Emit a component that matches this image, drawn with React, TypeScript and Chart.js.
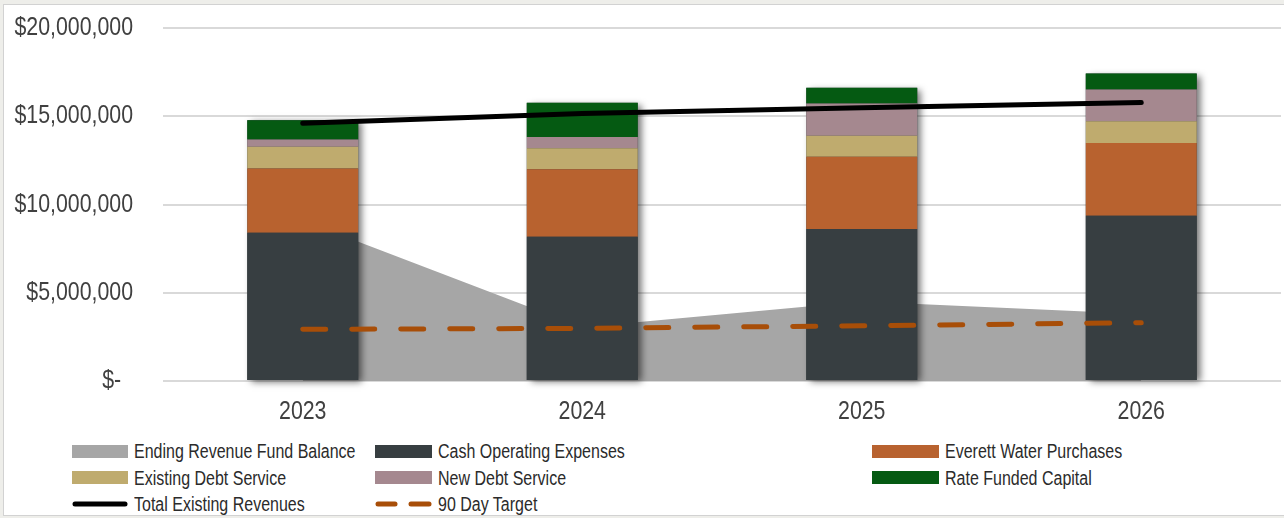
import React, { useEffect, useRef } from "react";
import { Chart, registerables } from "chart.js";

Chart.register(...registerables);

const categories = ["2023", "2024", "2025", "2026"];
const endingBalance = [9100000, 3050000, 4500000, 3800000];
const cashOpex = [8400000, 8170000, 8610000, 9360000];
const everettPurchases = [3640000, 3830000, 4090000, 4130000];
const existingDebt = [1230000, 1180000, 1190000, 1230000];
const newDebt = [410000, 640000, 1830000, 1800000];
const rateFunded = [1100000, 1940000, 890000, 900000];
const totalRevenues = [14600000, 15150000, 15480000, 15780000];
const target90 = [2930000, 2980000, 3130000, 3300000];
const yTicks = [0, 5000000, 10000000, 15000000, 20000000];

const FONT = "'Liberation Sans', Arial, sans-serif";
const NARROW = 0.82;

const C = {
  balance: "#a6a6a6",
  cash: "#373e41",
  everett: "#b8622f",
  existing: "#bfab6e",
  newDebt: "#a5888f",
  rate: "#055a12",
  total: "#000000",
  target: "#a84e08",
};

type LegendItem = { label: string; color: string; kind: "box" | "line" | "dash" };
const legendItems: LegendItem[] = [
  { label: "Ending Revenue Fund Balance", color: C.balance, kind: "box" },
  { label: "Cash Operating Expenses", color: C.cash, kind: "box" },
  { label: "Everett Water Purchases", color: C.everett, kind: "box" },
  { label: "Existing Debt Service", color: C.existing, kind: "box" },
  { label: "New Debt Service", color: C.newDebt, kind: "box" },
  { label: "Rate Funded Capital", color: C.rate, kind: "box" },
  { label: "Total Existing Revenues", color: C.total, kind: "line" },
  { label: "90 Day Target", color: C.target, kind: "dash" },
];
const colLeft = [72, 375, 872];
const colBoxW = [56, 57, 67];
const rowCenter = [451, 477.5, 504];

// Condense axis text horizontally (Arial Narrow look) while scales draw.
const narrowTextPlugin = {
  id: "narrowText",
  beforeDraw(chart: any) {
    const ctx = chart.ctx;
    const orig = CanvasRenderingContext2D.prototype.fillText;
    ctx.fillText = function (text: string, x: number, y: number, maxWidth?: number) {
      this.save();
      this.translate(x, y);
      this.scale(NARROW, 1);
      if (maxWidth === undefined) orig.call(this, text, 0, 0);
      else orig.call(this, text, 0, 0, maxWidth / NARROW);
      this.restore();
    };
  },
  beforeDatasetsDraw(chart: any) {
    delete chart.ctx.fillText;
  },
  afterDraw(chart: any) {
    delete chart.ctx.fillText;
  },
};

const barShadowPlugin = {
  id: "barShadow",
  afterDatasetDraw(chart: any, args: any) {
    if (args.index !== 0) return;
    const ctx = chart.ctx;
    const barIdx = [1, 2, 3, 4, 5];
    const n = chart.data.labels.length;
    ctx.save();
    ctx.shadowColor = "rgba(0,0,0,0.55)";
    ctx.shadowBlur = 7;
    ctx.shadowOffsetX = 4;
    ctx.shadowOffsetY = 2;
    ctx.fillStyle = C.cash;
    for (let j = 0; j < n; j++) {
      let top = Infinity;
      let bottom = -Infinity;
      let x = 0;
      let w = 0;
      barIdx.forEach((i) => {
        const el: any = chart.getDatasetMeta(i).data[j];
        if (!el) return;
        const p = el.getProps(["x", "y", "base", "width"], true);
        top = Math.min(top, p.y, p.base);
        bottom = Math.max(bottom, p.y, p.base);
        x = p.x;
        w = p.width;
      });
      ctx.fillRect(x - w / 2, top, w, bottom - top);
    }
    ctx.restore();
  },
};

export default function App() {
  const ref = useRef<HTMLCanvasElement>(null);

  useEffect(() => {
    if (!ref.current) return;
    const barDs = (label: string, data: number[], color: string) => ({
      type: "bar" as const,
      label,
      data,
      backgroundColor: color,
      borderWidth: 0,
      stack: "bars",
      order: 5,
      categoryPercentage: 1,
      barPercentage: 0.397,
    });
    const chart = new Chart(ref.current, {
      type: "bar",
      data: {
        labels: categories,
        datasets: [
          {
            type: "line",
            label: "Ending Revenue Fund Balance",
            data: endingBalance,
            backgroundColor: C.balance,
            borderWidth: 0,
            fill: "origin",
            pointRadius: 0,
            tension: 0,
            stack: "area",
            order: 10,
          } as any,
          barDs("Cash Operating Expenses", cashOpex, C.cash),
          barDs("Everett Water Purchases", everettPurchases, C.everett),
          barDs("Existing Debt Service", existingDebt, C.existing),
          barDs("New Debt Service", newDebt, C.newDebt),
          barDs("Rate Funded Capital", rateFunded, C.rate),
          {
            type: "line",
            label: "Total Existing Revenues",
            data: totalRevenues,
            borderColor: C.total,
            borderWidth: 5,
            borderCapStyle: "round",
            fill: false,
            pointRadius: 0,
            tension: 0,
            stack: "total",
            order: 1,
          } as any,
          {
            type: "line",
            label: "90 Day Target",
            data: target90,
            borderColor: C.target,
            borderWidth: 5,
            borderCapStyle: "round",
            borderDash: [23, 26],
            fill: false,
            pointRadius: 0,
            tension: 0,
            stack: "target",
            order: 1,
          } as any,
        ],
      },
      options: {
        responsive: false,
        animation: false,
        layout: { padding: { left: 8, top: 28, right: 3, bottom: 0 } },
        plugins: { legend: { display: false }, tooltip: { enabled: false } },
        scales: {
          x: {
            stacked: true,
            grid: { display: false },
            border: { display: false },
            ticks: { color: "#404040", font: { family: FONT, size: 26 }, padding: 7 },
            afterFit: (s: any) => {
              s.height = 59;
            },
          },
          y: {
            stacked: true,
            min: 0,
            max: 20000000,
            afterBuildTicks: (s: any) => {
              s.ticks = yTicks.map((v) => ({ value: v }));
            },
            grid: { color: "#d9d9d9", lineWidth: 2, drawTicks: false },
            border: { display: false },
            ticks: {
              color: "#404040",
              font: { family: FONT, size: 26 },
              padding: 30,
              callback: (v: any) => (Number(v) === 0 ? "$-  " : "$" + Number(v).toLocaleString("en-US")),
            },
            afterFit: (s: any) => {
              s.width = 155;
              s.paddingTop = 0;
              s.paddingBottom = 0;
            },
          },
        },
      },
      plugins: [narrowTextPlugin, barShadowPlugin],
    });
    return () => chart.destroy();
  }, []);

  return (
    <div
      style={{
        position: "fixed",
        left: 0,
        top: 0,
        width: 1284,
        height: 518,
        background: "#eeeeea",
        overflow: "hidden",
        fontFamily: FONT,
      }}
    >
      <div
        style={{
          position: "absolute",
          left: 3,
          top: 4,
          width: 1300,
          height: 512,
          background: "#ffffff",
          border: "1px solid #d2d2d2",
          boxSizing: "border-box",
        }}
      />
      <canvas ref={ref} width={1284} height={440} style={{ position: "absolute", left: 0, top: 0 }} />
      <div style={{ position: "absolute", left: 0, top: 440, width: 1284, height: 75, overflow: "hidden" }}>
        {legendItems.map((it, i) => {
          const col = i % 3;
          const row = Math.floor(i / 3);
          const left = colLeft[col];
          const bw = colBoxW[col];
          const cy = rowCenter[row] - 440;
          return (
            <div
              key={it.label}
              style={{
                position: "absolute",
                left,
                top: cy - 13,
                height: 26,
                display: "flex",
                alignItems: "center",
                whiteSpace: "nowrap",
                fontSize: 20,
                color: "#2b2b2b",
              }}
            >
              {it.kind === "box" ? (
                <div style={{ width: bw, height: 13, background: it.color, flex: "none" }} />
              ) : (
                <svg width={bw} height={10} style={{ flex: "none", display: "block" }}>
                  {it.kind === "line" ? (
                    <line x1={3} y1={5} x2={bw - 3} y2={5} stroke={it.color} strokeWidth={5} strokeLinecap="round" />
                  ) : (
                    <g>
                      <line x1={3} y1={5} x2={20} y2={5} stroke={it.color} strokeWidth={5} strokeLinecap="round" />
                      <line x1={36} y1={5} x2={bw - 3} y2={5} stroke={it.color} strokeWidth={5} strokeLinecap="round" />
                    </g>
                  )}
                </svg>
              )}
              <span
                style={{
                  marginLeft: 6,
                  lineHeight: "26px",
                  display: "inline-block",
                  transform: "scaleX(0.8)",
                  transformOrigin: "left center",
                }}
              >
                {it.label}
              </span>
            </div>
          );
        })}
      </div>
    </div>
  );
}
